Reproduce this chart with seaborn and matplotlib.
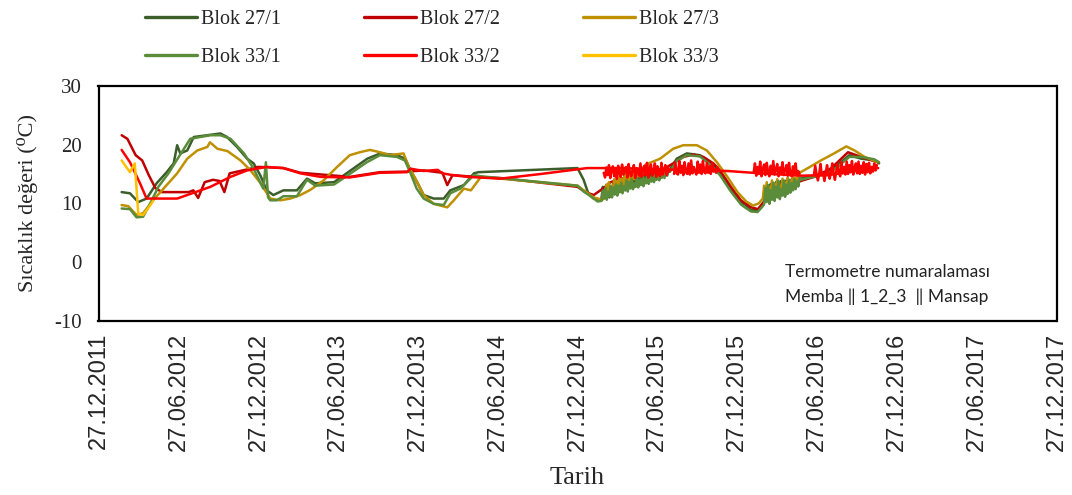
import numpy as np
import pandas as pd
import matplotlib
matplotlib.use('Agg')
import matplotlib.pyplot as plt
import matplotlib.dates as mdates
from matplotlib.lines import Line2D
from matplotlib.ticker import FixedLocator
import seaborn as sns

# ---------------- data ----------------
series_names = ['Blok 27/1', 'Blok 27/2', 'Blok 27/3', 'Blok 33/1', 'Blok 33/2', 'Blok 33/3']
series_colors = ['#3B5E2B', '#C00000', '#BF9000', '#5B8C3A', '#FF0000', '#FFC000']

b27_1_dates = ['2012-02-18', '2012-03-08', '2012-03-27', '2012-04-15', '2012-05-08', '2012-05-31',
               '2012-06-16', '2012-06-24', '2012-07-01', '2012-07-17', '2012-08-01', '2012-08-31',
               '2012-10-01', '2012-10-16', '2012-11-08', '2012-12-01', '2012-12-16', '2012-12-31',
               '2013-01-15', '2013-01-30', '2013-02-22', '2013-03-25', '2013-04-17', '2013-05-06',
               '2013-06-18', '2013-07-26', '2013-09-02', '2013-10-02', '2013-11-09', '2013-11-28',
               '2013-12-10', '2013-12-25', '2014-01-09', '2014-02-01', '2014-02-24', '2014-03-11',
               '2014-04-11', '2014-05-04', '2014-05-14', '2014-12-27', '2015-01-10', '2015-01-21',
               '2015-02-02', '2015-02-17',
               '2015-07-27', '2015-08-11', '2015-09-03', '2015-10-03', '2015-10-26', '2015-11-18',
               '2015-12-13', '2016-01-05', '2016-01-16', '2016-01-28', '2016-02-12', '2016-02-24',
               '2016-05-21', '2016-06-06', '2016-07-21', '2016-08-13', '2016-09-09', '2016-10-06',
               '2016-11-05', '2016-11-16']
b27_1_vals = [11.9, 11.7, 10.2, 10.8, 13.4, 15.3,
              16.8, 19.9, 18.5, 19.0, 21.3, 21.6,
              21.9, 21.3, 19.6, 17.6, 16.8, 14.8,
              12.2, 11.4, 12.2, 12.2, 14.2, 13.4,
              13.6, 15.6, 17.6, 18.5, 18.2, 17.6,
              15.6, 13.6, 11.4, 10.8, 10.8, 12.2,
              13.1, 15.1, 15.3, 16.0, 14.0, 11.6,
              10.8, 10.6,
              15.8, 17.6, 18.5, 18.2, 17.0, 15.3,
              12.5, 10.2, 9.7, 8.8, 8.8, 9.9,
              14.2, 14.5, 15.3, 16.5, 18.2, 17.6,
              17.3, 16.8]
b27_1_noise_2015_start = '2015-02-20'
b27_1_noise_2015 = [10.9, 12.8, 11.1, 12.3, 11.4, 13.1, 11.0, 12.9, 11.7, 13.4, 11.5, 12.9, 12.1,
                    13.7, 11.9, 13.3, 12.4, 13.9, 12.2, 13.5, 12.7, 14.2, 12.6, 13.8, 13.0, 14.4,
                    12.9, 14.1, 13.3, 14.6, 13.2, 14.3, 13.6, 14.9, 13.5, 14.6, 13.9, 15.2, 13.8,
                    14.9, 14.2, 15.4, 14.1, 15.2, 14.5, 15.6, 14.4, 15.3, 14.8, 15.7, 15.0, 15.6]
b27_1_noise_2016_start = '2016-02-27'
b27_1_noise_2016 = [10.1, 12.9, 10.5, 12.4, 10.3, 13.3, 10.9, 12.7, 10.8, 13.6, 11.2, 12.9, 11.0,
                    13.8, 11.5, 13.1, 11.4, 13.9, 11.9, 13.3, 12.0, 14.1, 12.3, 13.6, 12.6, 14.0,
                    12.9, 14.3]

b27_2_dates = ['2012-02-18', '2012-03-02', '2012-03-21', '2012-04-05', '2012-04-20', '2012-05-05',
               '2012-05-20', '2012-07-20', '2012-07-31', '2012-08-11', '2012-08-26', '2012-09-14',
               '2012-09-29', '2012-10-10', '2012-10-22', '2012-11-21', '2012-12-27', '2013-02-22',
               '2013-04-02', '2013-07-24', '2013-10-01', '2013-12-02', '2014-01-09', '2014-02-21',
               '2014-03-04', '2014-03-16', '2014-04-19', '2014-07-04', '2014-12-27', '2015-01-14',
               '2015-02-02', '2015-02-25', '2015-03-13', '2015-04-12', '2015-05-21', '2015-07-04',
               '2015-08-03', '2015-08-26', '2015-09-18', '2015-10-11', '2015-11-03', '2015-11-18',
               '2015-12-13', '2016-01-05', '2016-01-28', '2016-02-13', '2016-03-03', '2016-04-06',
               '2016-05-21', '2016-06-25', '2016-07-30', '2016-09-06', '2016-10-06', '2016-11-14']
b27_2_vals = [21.6, 21.0, 18.2, 17.3, 14.8, 12.6,
              11.9, 11.9, 12.2, 10.9, 13.6, 14.0,
              13.8, 11.9, 15.1, 15.6, 16.2, 16.0,
              15.2, 14.5, 15.3, 15.4, 15.6, 15.2,
              13.1, 14.8, 14.6, 14.3, 12.8, 11.9,
              11.4, 12.6, 13.6, 14.3, 14.8, 15.5,
              16.8, 17.9, 18.3, 17.9, 16.8, 15.6,
              12.8, 10.5, 9.3, 9.0, 10.8, 12.5,
              13.8, 14.6, 16.0, 18.7, 17.9, 17.0]

b27_3_dates = ['2012-02-18', '2012-03-04', '2012-03-23', '2012-04-07', '2012-04-30', '2012-05-31',
               '2012-06-24', '2012-07-17', '2012-08-09', '2012-09-01', '2012-09-07', '2012-09-24',
               '2012-10-17', '2012-11-16', '2012-12-09', '2013-01-01', '2013-01-23', '2013-02-15',
               '2013-03-10', '2013-04-02', '2013-04-25', '2013-05-25', '2013-06-25', '2013-07-24',
               '2013-08-16', '2013-09-08', '2013-10-01', '2013-10-24', '2013-11-24', '2013-12-06',
               '2013-12-21', '2014-01-09', '2014-02-01', '2014-03-04', '2014-03-19', '2014-04-11',
               '2014-04-27', '2014-05-20', '2014-12-27', '2015-01-14', '2015-02-02', '2015-02-22',
               '2015-06-08', '2015-07-04', '2015-08-03', '2015-08-26', '2015-09-26', '2015-10-19',
               '2015-11-11', '2015-12-05', '2015-12-28', '2016-01-17', '2016-02-02', '2016-02-15',
               '2016-05-28', '2016-07-06', '2016-08-05', '2016-09-02', '2016-09-21', '2016-10-14',
               '2016-11-13']
b27_3_vals = [9.7, 9.5, 8.0, 8.3, 10.5, 13.1,
              15.1, 17.6, 19.0, 19.6, 20.4, 19.3,
              18.9, 17.3, 15.6, 13.4, 10.8, 10.5,
              10.8, 11.4, 12.3, 13.9, 16.2, 18.2,
              18.7, 19.1, 18.7, 18.2, 18.5, 16.2,
              14.2, 11.4, 9.9, 9.3, 10.5, 12.5,
              12.2, 14.5, 13.0, 12.0, 11.0, 10.6,
              16.8, 17.6, 19.3, 19.9, 19.9, 19.0,
              17.0, 14.5, 11.9, 10.3, 9.6, 10.0,
              15.6, 17.3, 18.5, 19.7, 19.0, 17.9,
              17.0]
b27_3_noise_2015_start = '2015-02-28'
b27_3_noise_2015 = [11.0, 13.2, 11.5, 13.6, 11.8, 13.0, 12.3, 14.1, 12.1, 13.8, 12.7, 14.6, 12.6,
                    14.2, 13.2, 15.1, 13.0, 14.8, 13.6, 15.5, 13.5, 15.2, 14.1, 16.0, 14.0, 15.7,
                    14.6, 16.4, 14.5, 16.1, 15.2, 16.6, 16.0]
b27_3_noise_2016_start = '2016-02-24'
b27_3_noise_2016 = [10.8, 13.0, 11.2, 13.6, 11.0, 12.8, 11.7, 13.9, 11.5, 13.3, 12.0, 14.1, 11.8,
                    13.0, 12.4, 14.2, 12.3, 13.6, 12.8, 14.4, 13.0, 13.9, 13.4, 14.6, 13.6, 14.3,
                    14.0, 14.8, 15.2]

b33_1_dates = ['2012-02-18', '2012-03-08', '2012-03-23', '2012-04-07', '2012-04-23', '2012-05-12',
               '2012-06-04', '2012-06-20', '2012-07-01', '2012-07-24', '2012-09-08', '2012-10-01',
               '2012-10-24', '2012-11-24', '2012-12-16', '2013-01-07', '2013-01-13', '2013-01-18',
               '2013-01-23', '2013-02-07', '2013-02-22', '2013-03-25', '2013-04-17', '2013-05-06',
               '2013-06-18', '2013-07-24', '2013-09-01', '2013-10-01', '2013-11-09', '2013-11-27',
               '2013-12-09', '2013-12-24', '2014-01-09', '2014-02-01', '2014-02-24', '2014-03-11',
               '2014-04-03', '2014-05-04', '2014-05-20', '2014-12-27', '2015-01-10', '2015-01-26',
               '2015-02-11',
               '2015-07-27', '2015-08-11', '2015-09-03', '2015-10-03', '2015-10-26', '2015-11-18',
               '2015-12-13', '2016-01-05', '2016-01-16', '2016-01-28', '2016-02-12', '2016-02-24',
               '2016-05-21', '2016-06-06', '2016-07-21', '2016-08-13', '2016-09-09', '2016-10-06',
               '2016-11-05', '2016-11-16']
b33_1_vals = [9.1, 9.0, 7.6, 7.7, 9.9, 12.8,
              15.1, 17.0, 18.3, 21.0, 21.6, 21.6,
              21.0, 18.5, 15.9, 12.5, 17.0, 11.0,
              10.5, 10.5, 11.2, 11.2, 14.0, 13.0,
              13.2, 15.0, 17.0, 18.2, 17.9, 17.3,
              15.3, 12.5, 10.8, 9.9, 9.7, 11.7,
              12.5, 14.8, 14.6, 13.0, 12.0, 11.2,
              10.3,
              15.4, 17.2, 18.2, 18.0, 16.6, 14.8,
              12.0, 9.8, 9.2, 8.6, 8.5, 9.5,
              14.0, 14.3, 15.0, 16.2, 17.9, 17.9,
              17.5, 17.0]
b33_1_noise_2015_start = '2015-02-20'
b33_1_noise_2015 = [10.4, 12.2, 10.8, 12.6, 10.6, 12.0, 11.2, 12.9, 11.0, 12.7, 11.6, 13.2, 11.3,
                    13.0, 11.9, 13.5, 11.7, 12.8, 12.3, 13.9, 12.0, 13.6, 12.5, 14.1, 12.4, 13.4,
                    12.8, 14.3, 12.7, 14.0, 13.1, 14.5, 12.9, 14.2, 13.4, 14.8, 13.3, 14.4, 13.7,
                    15.1, 13.6, 14.8, 14.0, 15.3, 13.9, 15.1, 14.4, 15.5, 14.3, 15.6, 14.7, 15.4]
b33_1_noise_2016_start = '2016-02-27'
b33_1_noise_2016 = [9.8, 12.6, 10.2, 13.1, 9.9, 12.2, 10.6, 13.5, 10.4, 12.8, 11.0, 13.8, 10.7,
                    12.4, 11.3, 13.9, 11.1, 13.2, 11.6, 14.0, 11.8, 13.4, 12.2, 14.1, 12.4, 13.7,
                    12.9, 14.2]

b33_2_dates = ['2012-02-18', '2012-03-08', '2012-03-31', '2012-04-15', '2012-06-24', '2012-07-17',
               '2012-09-08', '2012-10-24', '2012-12-01', '2013-01-15', '2013-02-22', '2013-04-02',
               '2013-05-18', '2013-07-24', '2013-10-01', '2013-12-02', '2013-12-10', '2014-01-09',
               '2014-02-10', '2014-02-21', '2014-03-16', '2014-04-19', '2014-07-04', '2014-10-05',
               '2015-01-18', '2015-04-04', '2015-07-04', '2015-10-03', '2015-12-06', '2016-02-19',
               '2016-05-21', '2016-07-22', '2016-10-06', '2016-11-14']
b33_2_vals = [19.1, 17.0, 13.4, 10.8, 10.8, 11.4,
              12.8, 14.5, 15.6, 16.2, 16.0, 15.1,
              14.5, 14.4, 15.2, 15.3, 15.9, 15.5,
              15.7, 15.1, 14.8, 14.5, 14.2, 15.0,
              16.0, 16.0, 15.8, 15.6, 15.5, 15.1,
              14.7, 14.8, 15.6, 16.0]
b33_2_noise_a_start = '2015-02-25'
b33_2_noise_a = [15.2, 14.4, 16.1, 14.8, 16.5, 14.3, 15.7, 16.3, 14.6, 15.9, 14.2, 16.4, 15.0,
                 14.5, 16.6, 14.9, 15.4, 16.2, 14.4, 16.7, 15.1, 14.6, 15.8, 16.5, 14.3, 16.0,
                 15.3, 14.7, 16.8, 14.5, 15.6, 16.4, 14.8, 16.9, 14.4, 15.9, 16.6, 14.7, 15.2,
                 16.8, 14.5, 16.3, 15.0, 14.6, 16.9, 14.9, 15.7, 16.5, 14.8, 16.2, 15.4]
b33_2_noise_b_start = '2015-08-05'
b33_2_noise_b = [15.0, 16.9, 15.1, 14.9, 17.2, 15.2, 16.4, 14.8, 17.0, 15.3, 15.0, 16.8, 14.9,
                 17.3, 15.1, 16.2, 15.4, 14.9, 17.1, 15.2, 16.6, 15.0, 17.2, 15.3, 15.1, 16.9,
                 15.2, 16.3, 15.0, 16.8, 15.4, 15.8, 15.2, 16.2, 15.5]
b33_2_noise_c_start = '2016-02-03'
b33_2_noise_c = [15.2, 16.8, 14.7, 16.2, 15.0, 17.1, 14.6, 15.9, 16.6, 14.8, 16.9, 15.3, 14.6,
                 16.4, 15.1, 17.2, 14.9, 15.7, 16.7, 14.6, 16.1, 15.2, 17.0, 14.8, 15.6, 16.5,
                 14.7, 16.9, 15.0, 14.6, 16.3, 15.1, 16.8, 14.8, 15.5, 15.0]
b33_2_noise_d_start = '2016-06-20'
b33_2_noise_d = [14.8, 16.4, 14.9, 13.9, 15.0, 16.7, 14.8, 15.1, 13.8, 15.2, 16.5, 15.0, 14.2,
                 15.3, 16.8, 15.1, 14.0, 15.4, 16.6, 15.2, 14.6, 17.0, 15.1, 16.2, 14.9, 17.1,
                 15.0, 16.5, 15.3, 17.2, 14.9, 16.0, 16.8, 15.1, 17.1, 15.0, 16.4, 15.2, 17.0,
                 14.9, 16.7, 15.3, 16.9, 15.1, 16.2, 15.4, 16.8, 15.6, 16.5]

b33_3_dates = ['2012-02-18', '2012-03-08', '2012-03-19', '2012-03-27', '2012-04-07', '2012-04-18',
               '2012-04-30']
b33_3_vals = [17.3, 15.3, 16.8, 8.2, 8.0, 9.1, 10.4]

x_tick_dates = ['2011-12-27', '2012-06-27', '2012-12-27', '2013-06-27', '2013-12-27',
                '2014-06-27', '2014-12-27', '2015-06-27', '2015-12-27', '2016-06-27',
                '2016-12-27', '2017-06-27', '2017-12-27']
y_ticks = [-10, 0, 10, 20, 30]

# ---------------- build long table ----------------
NOISE_STEP = '3D'
parts = []


def add_part(name, unit, dates, vals):
    parts.append(pd.DataFrame({'Tarih': pd.to_datetime(dates), 'Sıcaklık': vals,
                               'Seri': name, 'Parça': unit}))


def add_noise(name, unit, start, vals):
    add_part(name, unit, pd.date_range(start, periods=len(vals), freq=NOISE_STEP), vals)


add_part('Blok 27/1', 'u1', b27_1_dates, b27_1_vals)
add_noise('Blok 27/1', 'u1', b27_1_noise_2015_start, b27_1_noise_2015)
add_noise('Blok 27/1', 'u1', b27_1_noise_2016_start, b27_1_noise_2016)
add_part('Blok 27/2', 'u2', b27_2_dates, b27_2_vals)
add_part('Blok 27/3', 'u3', b27_3_dates, b27_3_vals)
add_noise('Blok 27/3', 'u3', b27_3_noise_2015_start, b27_3_noise_2015)
add_noise('Blok 27/3', 'u3', b27_3_noise_2016_start, b27_3_noise_2016)
add_part('Blok 33/1', 'u4', b33_1_dates, b33_1_vals)
add_noise('Blok 33/1', 'u4', b33_1_noise_2015_start, b33_1_noise_2015)
add_noise('Blok 33/1', 'u4', b33_1_noise_2016_start, b33_1_noise_2016)
add_part('Blok 33/2', 'u5', b33_2_dates, b33_2_vals)
add_noise('Blok 33/2', 'u5a', b33_2_noise_a_start, b33_2_noise_a)
add_noise('Blok 33/2', 'u5b', b33_2_noise_b_start, b33_2_noise_b)
add_noise('Blok 33/2', 'u5c', b33_2_noise_c_start, b33_2_noise_c)
add_noise('Blok 33/2', 'u5d', b33_2_noise_d_start, b33_2_noise_d)
add_part('Blok 33/3', 'u6', b33_3_dates, b33_3_vals)

df = pd.concat(parts, ignore_index=True).sort_values(['Parça', 'Tarih']).reset_index(drop=True)

# ---------------- plot ----------------
sns.set_style('white')
plt.rcParams['font.family'] = ['Liberation Serif', 'DejaVu Serif']
plt.rcParams['axes.unicode_minus'] = False

fig = plt.figure(figsize=(10.72, 4.95), dpi=100)
ax = fig.add_axes([98.5 / 1072, 1 - 320.5 / 495, 958 / 1072, 234.5 / 495])

palette = dict(zip(series_names, series_colors))
sns.lineplot(data=df, x='Tarih', y='Sıcaklık', hue='Seri', units='Parça', estimator=None,
             sort=False, hue_order=series_names, palette=palette, linewidth=1.8,
             legend=False, ax=ax)

ax.set_xlim(pd.Timestamp(x_tick_dates[0]), pd.Timestamp(x_tick_dates[-1]))
ax.set_ylim(y_ticks[0], y_ticks[-1])
ax.set_yticks(y_ticks)
ax.xaxis.set_major_locator(FixedLocator(mdates.date2num(pd.to_datetime(x_tick_dates))))
ax.xaxis.set_major_formatter(mdates.DateFormatter('%d.%m.%Y'))

for sp in ax.spines.values():
    sp.set_color('black')
    sp.set_linewidth(1.6)
ax.tick_params(axis='both', direction='in', length=6, width=1.4, color='black')
ax.tick_params(axis='y', pad=12)
ax.tick_params(axis='x', pad=9)
for lab in ax.get_yticklabels():
    lab.set_fontfamily(['Liberation Serif', 'DejaVu Serif'])
    lab.set_fontsize(15)
for lab in ax.get_xticklabels():
    lab.set_fontfamily(['Liberation Sans', 'DejaVu Sans'])
    lab.set_fontsize(17)
    lab.set_rotation(90)

ax.set_ylabel('Sıcaklık değeri (⁰C)', fontsize=16, family=['Liberation Serif', 'DejaVu Serif'])
ax.set_xlabel('Tarih', fontsize=19, family=['Liberation Serif', 'DejaVu Serif'])
ax.yaxis.set_label_coords((28 - 98.5) / 958, 0.5)
ax.yaxis.label.set_va('center')
ax.xaxis.set_label_coords(0.5, (320.5 - 478) / 234.5)
ax.xaxis.label.set_va('center')

# legend (column-major order for ncol=3)
leg_order = ['Blok 27/1', 'Blok 33/1', 'Blok 27/2', 'Blok 33/2', 'Blok 27/3', 'Blok 33/3']
handles = [Line2D([], [], color=palette[n], lw=2.4) for n in leg_order]
fig.legend(handles, leg_order, ncol=3, loc='upper left',
           bbox_to_anchor=(145 / 1072, 1 - 10 / 495), frameon=False,
           prop={'family': ['Liberation Serif', 'DejaVu Serif'], 'size': 14.5},
           handlelength=2.6, handletextpad=0.2, columnspacing=4.1, labelspacing=0.95,
           borderpad=0, borderaxespad=0)

# note
note_font = ['Lato', 'DejaVu Sans']
fig.text(785 / 1072, 1 - 272 / 495, 'Termometre numaralaması', family=note_font,
         fontsize=12.5, va='center', ha='left', color='#222222')
fig.text(785 / 1072, 1 - 297 / 495, 'Memba ‖ 1_2_3  ‖ Mansap', family=note_font,
         fontsize=12.5, va='center', ha='left', color='#222222')

fig.savefig('out.png', dpi=100)
